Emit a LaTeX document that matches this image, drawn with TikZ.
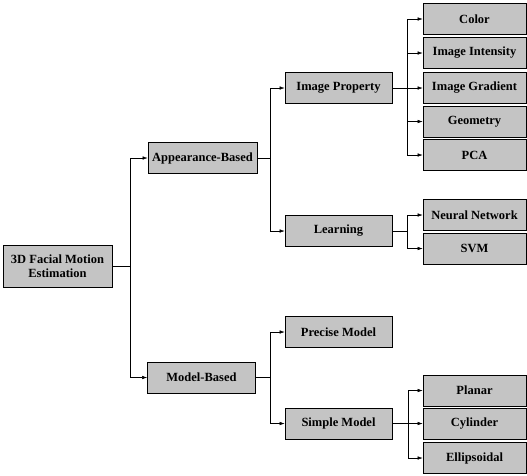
\documentclass[tikz,border=0pt]{standalone}
\usepackage{fontspec}
\setmainfont{Liberation Serif}
\usetikzlibrary{arrows.meta}
\begin{document}
\begin{tikzpicture}[x=1pt,y=-1pt,
  box/.style={draw=black, line width=0.7pt, fill=black!23, font=\fontsize{12.5}{13.5}\selectfont\bfseries, align=center, inner sep=1pt, minimum height=31pt},
  mid/.style={box, minimum width=107pt},
  leaf/.style={box, minimum width=103pt},
  arr/.style={line width=0.5pt, -{Latex[length=5pt,width=3.5pt]}},
  ln/.style={line width=0.5pt}]
\useasboundingbox (0,0) rectangle (527,475);
% nodes
\node[box, minimum width=109pt, minimum height=42pt] (root) at (57.5,266) {3D Facial Motion\\Estimation};
\node[box, minimum width=109pt] (app) at (202.5,158) {Appearance-Based};
\node[box, minimum width=108pt] (model) at (201.5,377.5) {Model-Based};
\node[mid] (prop) at (338.5,88) {Image Property};
\node[mid] (learn) at (338.5,231) {Learning};
\node[mid] (precise) at (338.5,332) {Precise Model};
\node[mid] (simple) at (338.5,423.5) {Simple Model};
\node[leaf] (color) at (474.5,19) {Color};
\node[leaf] (inten) at (474.5,53) {Image Intensity};
\node[leaf] (grad) at (474.5,88) {Image Gradient};
\node[leaf] (geom) at (474.5,121.5) {Geometry};
\node[leaf] (pca) at (474.5,155) {PCA};
\node[leaf] (nn) at (474.5,215) {Neural Network};
\node[leaf] (svm) at (474.5,248.5) {SVM};
\node[leaf] (planar) at (474.5,390.5) {Planar};
\node[leaf] (cyl) at (474.5,423.5) {Cylinder};
\node[leaf] (ell) at (474.5,458) {Ellipsoidal};
% junctions
\coordinate (j1) at (130,266);
\coordinate (j2) at (270,158);
\coordinate (j3) at (270,377.5);
\coordinate (j4) at (407.5,88);
\coordinate (j5) at (407.5,231);
\coordinate (j6) at (408,423.5);
% connectors
\draw[ln] (root.east) -- (j1);
\draw[arr] (j1) |- (app.west);
\draw[arr] (j1) |- (model.west);
\draw[ln] (app.east) -- (j2);
\draw[arr] (j2) |- (prop.west);
\draw[arr] (j2) |- (learn.west);
\draw[ln] (model.east) -- (j3);
\draw[arr] (j3) |- (precise.west);
\draw[arr] (j3) |- (simple.west);
\draw[ln] (prop.east) -- (j4);
\draw[arr] (j4) |- (color.west);
\draw[arr] (j4) |- (inten.west);
\draw[arr] (j4) |- (grad.west);
\draw[arr] (j4) |- (geom.west);
\draw[arr] (j4) |- (pca.west);
\draw[ln] (learn.east) -- (j5);
\draw[arr] (j5) |- (nn.west);
\draw[arr] (j5) |- (svm.west);
\draw[ln] (simple.east) -- (j6);
\draw[arr] (j6) |- (planar.west);
\draw[arr] (j6) |- (cyl.west);
\draw[arr] (j6) |- (ell.west);
\end{tikzpicture}
\end{document}
